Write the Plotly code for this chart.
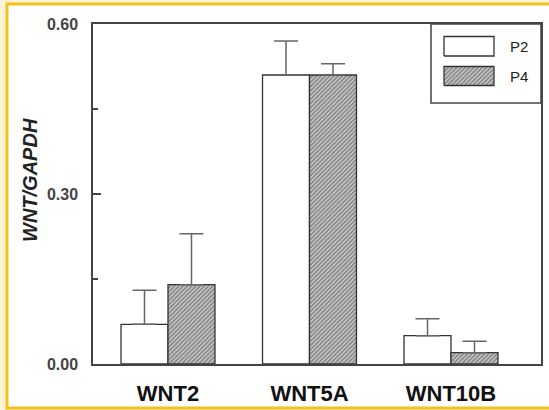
import plotly.graph_objects as go

categories = ["WNT2", "WNT5A", "WNT10B"]
p2_values = [0.07, 0.51, 0.05]
p2_errors = [0.06, 0.06, 0.03]
p4_values = [0.14, 0.51, 0.02]
p4_errors = [0.09, 0.02, 0.02]
series_names = ["P2", "P4"]
y_tickvals = [0.0, 0.30, 0.60]
y_ticktext = ["0.00", "0.30", "0.60"]
y_minor_ticks = [0.15, 0.45]

FONT = "Arial, Liberation Sans, Helvetica, sans-serif"
AX = "#444444"
HATCH = dict(shape="/", fgcolor="#222222", bgcolor="#f4f4f4", size=3, solidity=0.75)

fig = go.Figure()

fig.add_trace(go.Bar(
    x=categories, y=p2_values, name=series_names[0],
    marker=dict(color="white", line=dict(color="#333333", width=1.3)),
    error_y=dict(type="data", array=p2_errors, arrayminus=[0] * len(p2_errors),
                 symmetric=False, color="#666666", thickness=1.5, width=12),
    showlegend=False,
))
fig.add_trace(go.Bar(
    x=categories, y=p4_values, name=series_names[1],
    marker=dict(color="white", pattern=HATCH, line=dict(color="#333333", width=1.3)),
    error_y=dict(type="data", array=p4_errors, arrayminus=[0] * len(p4_errors),
                 symmetric=False, color="#666666", thickness=1.5, width=12),
    showlegend=False,
))

# legend swatches drawn on an invisible overlay axis measured in pixels of the plot area
sw_x = [351, 401, 401, 351, 351]
fig.add_trace(go.Scatter(
    x=sw_x, y=[308, 308, 327.5, 327.5, 308], xaxis="x2", yaxis="y2",
    mode="lines", fill="toself", fillcolor="white",
    line=dict(color="#333333", width=1.3), hoverinfo="skip", showlegend=False,
))
fig.add_trace(go.Scatter(
    x=sw_x, y=[278.5, 278.5, 297.5, 297.5, 278.5], xaxis="x2", yaxis="y2",
    mode="lines", fill="toself", fillcolor="white", fillpattern=HATCH,
    line=dict(color="#333333", width=1.3), hoverinfo="skip", showlegend=False,
))

for name, yy in zip(series_names, [318, 288]):
    fig.add_annotation(x=415, y=yy, xref="x2", yref="y2", text=name,
                       showarrow=False, xanchor="left", yanchor="middle",
                       font=dict(family=FONT, size=15, color="#222222"))

# y axis title
fig.add_annotation(x=(30 - 93) / 448, y=(364 - 180) / 340, xref="paper", yref="paper",
                   text="<i>WNT/GAPDH</i>", textangle=-90, showarrow=False,
                   xanchor="center", yanchor="middle",
                   font=dict(family=FONT, size=20, color="#222222", weight="bold"))

fig.update_layout(
    width=549, height=410,
    margin=dict(l=93, r=8, t=24, b=46, autoexpand=False),
    paper_bgcolor="#FDF1D6",
    plot_bgcolor="white",
    barmode="group", bargap=0.336, bargroupgap=0,
    font=dict(family=FONT, color="#333333"),
    xaxis=dict(
        range=[-0.53, 2.636], showline=True, linecolor=AX, linewidth=1.5, mirror=True,
        ticks="", showgrid=False, zeroline=False, automargin=False,
        tickfont=dict(family=FONT, size=22, color="#111111", weight="bold"),
        ticklabelstandoff=9,
    ),
    yaxis=dict(
        range=[0, 0.6], tickmode="array", tickvals=y_tickvals, ticktext=y_ticktext,
        showline=True, linecolor=AX, linewidth=1.5, mirror=True, automargin=False,
        ticks="inside", ticklen=8, tickwidth=1.5, tickcolor=AX,
        minor=dict(tickmode="array", tickvals=y_minor_ticks, ticks="inside",
                   ticklen=5, tickwidth=1.5, tickcolor=AX),
        showgrid=False, zeroline=False,
        tickfont=dict(family=FONT, size=16, color="#444444", weight="bold"),
        ticklabelstandoff=10,
    ),
    xaxis2=dict(range=[0, 448], overlaying="x", visible=False, domain=[0, 1], anchor="y2"),
    yaxis2=dict(range=[0, 340], overlaying="y", visible=False, domain=[0, 1], anchor="x2"),
    shapes=[
        dict(type="rect", xref="paper", yref="paper",
             x0=(7 - 93) / 448, x1=(580 - 93) / 448,
             y0=(364 - 408) / 340, y1=(364 - 4) / 340,
             fillcolor="white", line=dict(color="#F3C11E", width=3), layer="below"),
        dict(type="rect", xref="paper", yref="paper",
             x0=(431 - 93) / 448, x1=1, y0=(364 - 103) / 340, y1=1,
             fillcolor="white", line=dict(color=AX, width=1.5), layer="below"),
    ],
)

fig.write_html("out.html")
